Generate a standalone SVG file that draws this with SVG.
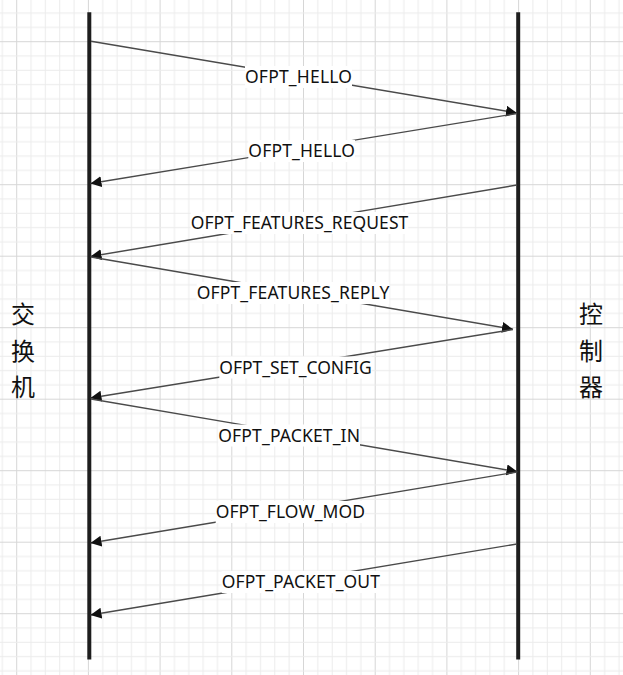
<svg xmlns="http://www.w3.org/2000/svg" width="623" height="675" viewBox="0 0 623 675">
<style>
.life{stroke:#1e1e1e;stroke-width:4;fill:none}
.msg{stroke:#4a4a4a;stroke-width:1.4;fill:none;marker-end:url(#arr)}
.lbl{font-family:"Noto Sans","Liberation Sans",sans-serif;font-size:17.5px;fill:#111}
.bg{fill:#fff}
.cjk{font-family:"Noto Sans CJK SC","Noto Sans CJK JP",sans-serif;font-size:24px;fill:#111;text-anchor:middle}
</style>
<defs>
<pattern id="gx" patternUnits="userSpaceOnUse" x="16.2" y="0" width="71.7" height="675">
<rect x="0" y="0" width="1" height="675" fill="#d6d6d6"/>
<rect x="14.34" y="0" width="1" height="675" fill="#ebebeb"/>
<rect x="28.68" y="0" width="1" height="675" fill="#ebebeb"/>
<rect x="43.02" y="0" width="1" height="675" fill="#ebebeb"/>
<rect x="57.36" y="0" width="1" height="675" fill="#ebebeb"/>
</pattern>
<pattern id="gy" patternUnits="userSpaceOnUse" x="0" y="41.2" width="623" height="71.5">
<rect x="0" y="0" width="623" height="1" fill="#d6d6d6"/>
<rect x="0" y="14.3" width="623" height="1" fill="#ebebeb"/>
<rect x="0" y="28.6" width="623" height="1" fill="#ebebeb"/>
<rect x="0" y="42.9" width="623" height="1" fill="#ebebeb"/>
<rect x="0" y="57.2" width="623" height="1" fill="#ebebeb"/>
</pattern>
<marker id="arr" markerUnits="userSpaceOnUse" markerWidth="12" markerHeight="12" refX="11" refY="5.5" orient="auto" viewBox="0 0 12 12">
<path d="M0,0 L11,5.5 L0,11 z" fill="#111"/>
</marker>
</defs>
<rect width="623" height="675" fill="#fff"/>
<rect width="623" height="675" fill="url(#gx)"/>
<rect width="623" height="675" fill="url(#gy)"/>

<g id="switch">
<line class="life" x1="89.3" y1="12.3" x2="89.3" y2="659.5"/>
<text class="cjk" x="23" y="323">交</text>
<text class="cjk" x="23" y="359.5">换</text>
<text class="cjk" x="23" y="395.5">机</text>
</g>
<g id="controller">
<line class="life" x1="518.2" y1="12.3" x2="518.2" y2="659.5"/>
<text class="cjk" x="591" y="323">控</text>
<text class="cjk" x="591" y="359.5">制</text>
<text class="cjk" x="591" y="396">器</text>
</g>

<g id="connectors">
<line class="msg" x1="91" y1="41.3" x2="517" y2="113"/>
<line class="msg" x1="517" y1="113.5" x2="90.5" y2="183.5"/>
<line class="msg" x1="517" y1="185" x2="90.5" y2="256.5"/>
<line class="msg" x1="91" y1="257" x2="513" y2="329.3"/>
<line class="msg" x1="513" y1="329.5" x2="90.5" y2="398"/>
<line class="msg" x1="91" y1="399" x2="517.5" y2="471.7"/>
<line class="msg" x1="517" y1="472" x2="90.5" y2="543"/>
<line class="msg" x1="517" y1="544" x2="90.5" y2="615"/>
</g>

<g id="labels">
<rect class="bg" x="245" y="66" width="107" height="22"/>
<text class="lbl" x="245" y="83" textLength="107">OFPT_HELLO</text>
<rect class="bg" x="248.3" y="140" width="106.7" height="22"/>
<text class="lbl" x="248.3" y="157" textLength="106.7">OFPT_HELLO</text>
<rect class="bg" x="190.7" y="212" width="217.6" height="22"/>
<text class="lbl" x="190.7" y="229" textLength="217.6">OFPT_FEATURES_REQUEST</text>
<rect class="bg" x="196.7" y="282" width="192.6" height="22"/>
<text class="lbl" x="196.7" y="299" textLength="192.6">OFPT_FEATURES_REPLY</text>
<rect class="bg" x="219.3" y="356.5" width="152.4" height="22"/>
<text class="lbl" x="219.3" y="373.5" textLength="152.4">OFPT_SET_CONFIG</text>
<rect class="bg" x="218.3" y="424.5" width="141.7" height="22"/>
<text class="lbl" x="218.3" y="441.5" textLength="141.7">OFPT_PACKET_IN</text>
<rect class="bg" x="215.7" y="501" width="149.3" height="22"/>
<text class="lbl" x="215.7" y="518" textLength="149.3">OFPT_FLOW_MOD</text>
<rect class="bg" x="221.7" y="571" width="158.3" height="22"/>
<text class="lbl" x="221.7" y="588" textLength="158.3">OFPT_PACKET_OUT</text>
</g>
</svg>
